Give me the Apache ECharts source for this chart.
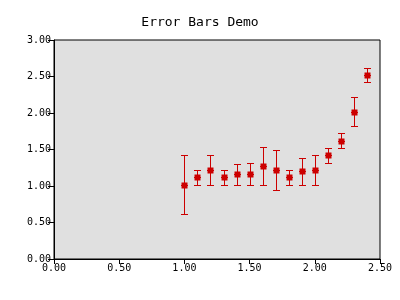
<!DOCTYPE html>
<html><head><meta charset="utf-8">
<script src="https://cdn.jsdelivr.net/npm/echarts@6/dist/echarts.min.js"></script>
<style>html,body{margin:0;padding:0;background:#fff}#c{width:400px;height:300px}</style>
</head><body><div id="c"></div>
<script>
const xValues = [1.0,1.1,1.2,1.3,1.4,1.5,1.6,1.7,1.8,1.9,2.0,2.1,2.2,2.3,2.4];
const yValues = [1.01,1.12,1.215,1.12,1.16,1.16,1.27,1.215,1.12,1.20,1.215,1.42,1.61,2.01,2.52];
const yLow    = [0.61,1.01,1.01,1.01,1.01,1.01,1.02,0.94,1.01,1.01,1.01,1.31,1.52,1.82,2.42];
const yHigh   = [1.42,1.215,1.42,1.215,1.30,1.31,1.53,1.49,1.215,1.39,1.42,1.52,1.72,2.215,2.61];

const font = 'DejaVu Sans Mono';
const red = '#cc0000';
const chart = echarts.init(document.getElementById('c'));
const errData = xValues.map((x,i)=>[x, yLow[i], yHigh[i], yValues[i]]);
const px = v => Math.round(v) + 0.5;
chart.setOption({
  animation:false,
  backgroundColor:'#fff',
  title:{text:'Error Bars Demo', left:'center', top:11,
    textStyle:{fontFamily:font, fontSize:13, fontWeight:'normal', color:'#000'}},
  grid:{left:54, right:20, top:40, bottom:41, show:true, backgroundColor:'#e0e0e0', borderColor:'#000', borderWidth:1},
  xAxis:{type:'value', min:0, max:2.5, interval:0.5,
    axisLine:{show:true, lineStyle:{color:'#000'}},
    axisTick:{show:true, length:5, lineStyle:{color:'#000'}},
    splitLine:{show:false},
    axisLabel:{fontFamily:font, fontSize:10, color:'#000', margin:4, formatter:v=>v.toFixed(2)}},
  yAxis:{type:'value', min:0, max:3, interval:0.5,
    axisLine:{show:true, lineStyle:{color:'#000'}},
    axisTick:{show:true, length:6, lineStyle:{color:'#000'}},
    splitLine:{show:false},
    axisLabel:{fontFamily:font, fontSize:10, color:'#000', margin:3, formatter:v=>v.toFixed(2)}},
  series:[{
    type:'custom',
    data:errData,
    encode:{x:0, y:[1,2]},
    renderItem:function(params, api){
      const x = api.value(0);
      const lo = api.coord([x, api.value(1)]);
      const hi = api.coord([x, api.value(2)]);
      const c = api.coord([x, api.value(3)]);
      const cx = px(c[0]), cy = px(c[1]), ly = px(lo[1]), hy = px(hi[1]);
      const hw = 3;
      const st = {stroke:red, lineWidth:1, fill:null};
      return {type:'group', children:[
        {type:'line', shape:{x1:cx, y1:ly, x2:cx, y2:hy}, style:st},
        {type:'line', shape:{x1:cx-hw-0.5, y1:ly, x2:cx+hw+0.5, y2:ly}, style:st},
        {type:'line', shape:{x1:cx-hw-0.5, y1:hy, x2:cx+hw+0.5, y2:hy}, style:st},
        {type:'rect', shape:{x:cx-3, y:cy-3, width:6, height:6}, style:{fill:red}},
        {type:'line', shape:{x1:cx-hw-0.5, y1:cy, x2:cx+hw+0.5, y2:cy}, style:st}
      ]};
    }
  }]
});
</script></body></html>
